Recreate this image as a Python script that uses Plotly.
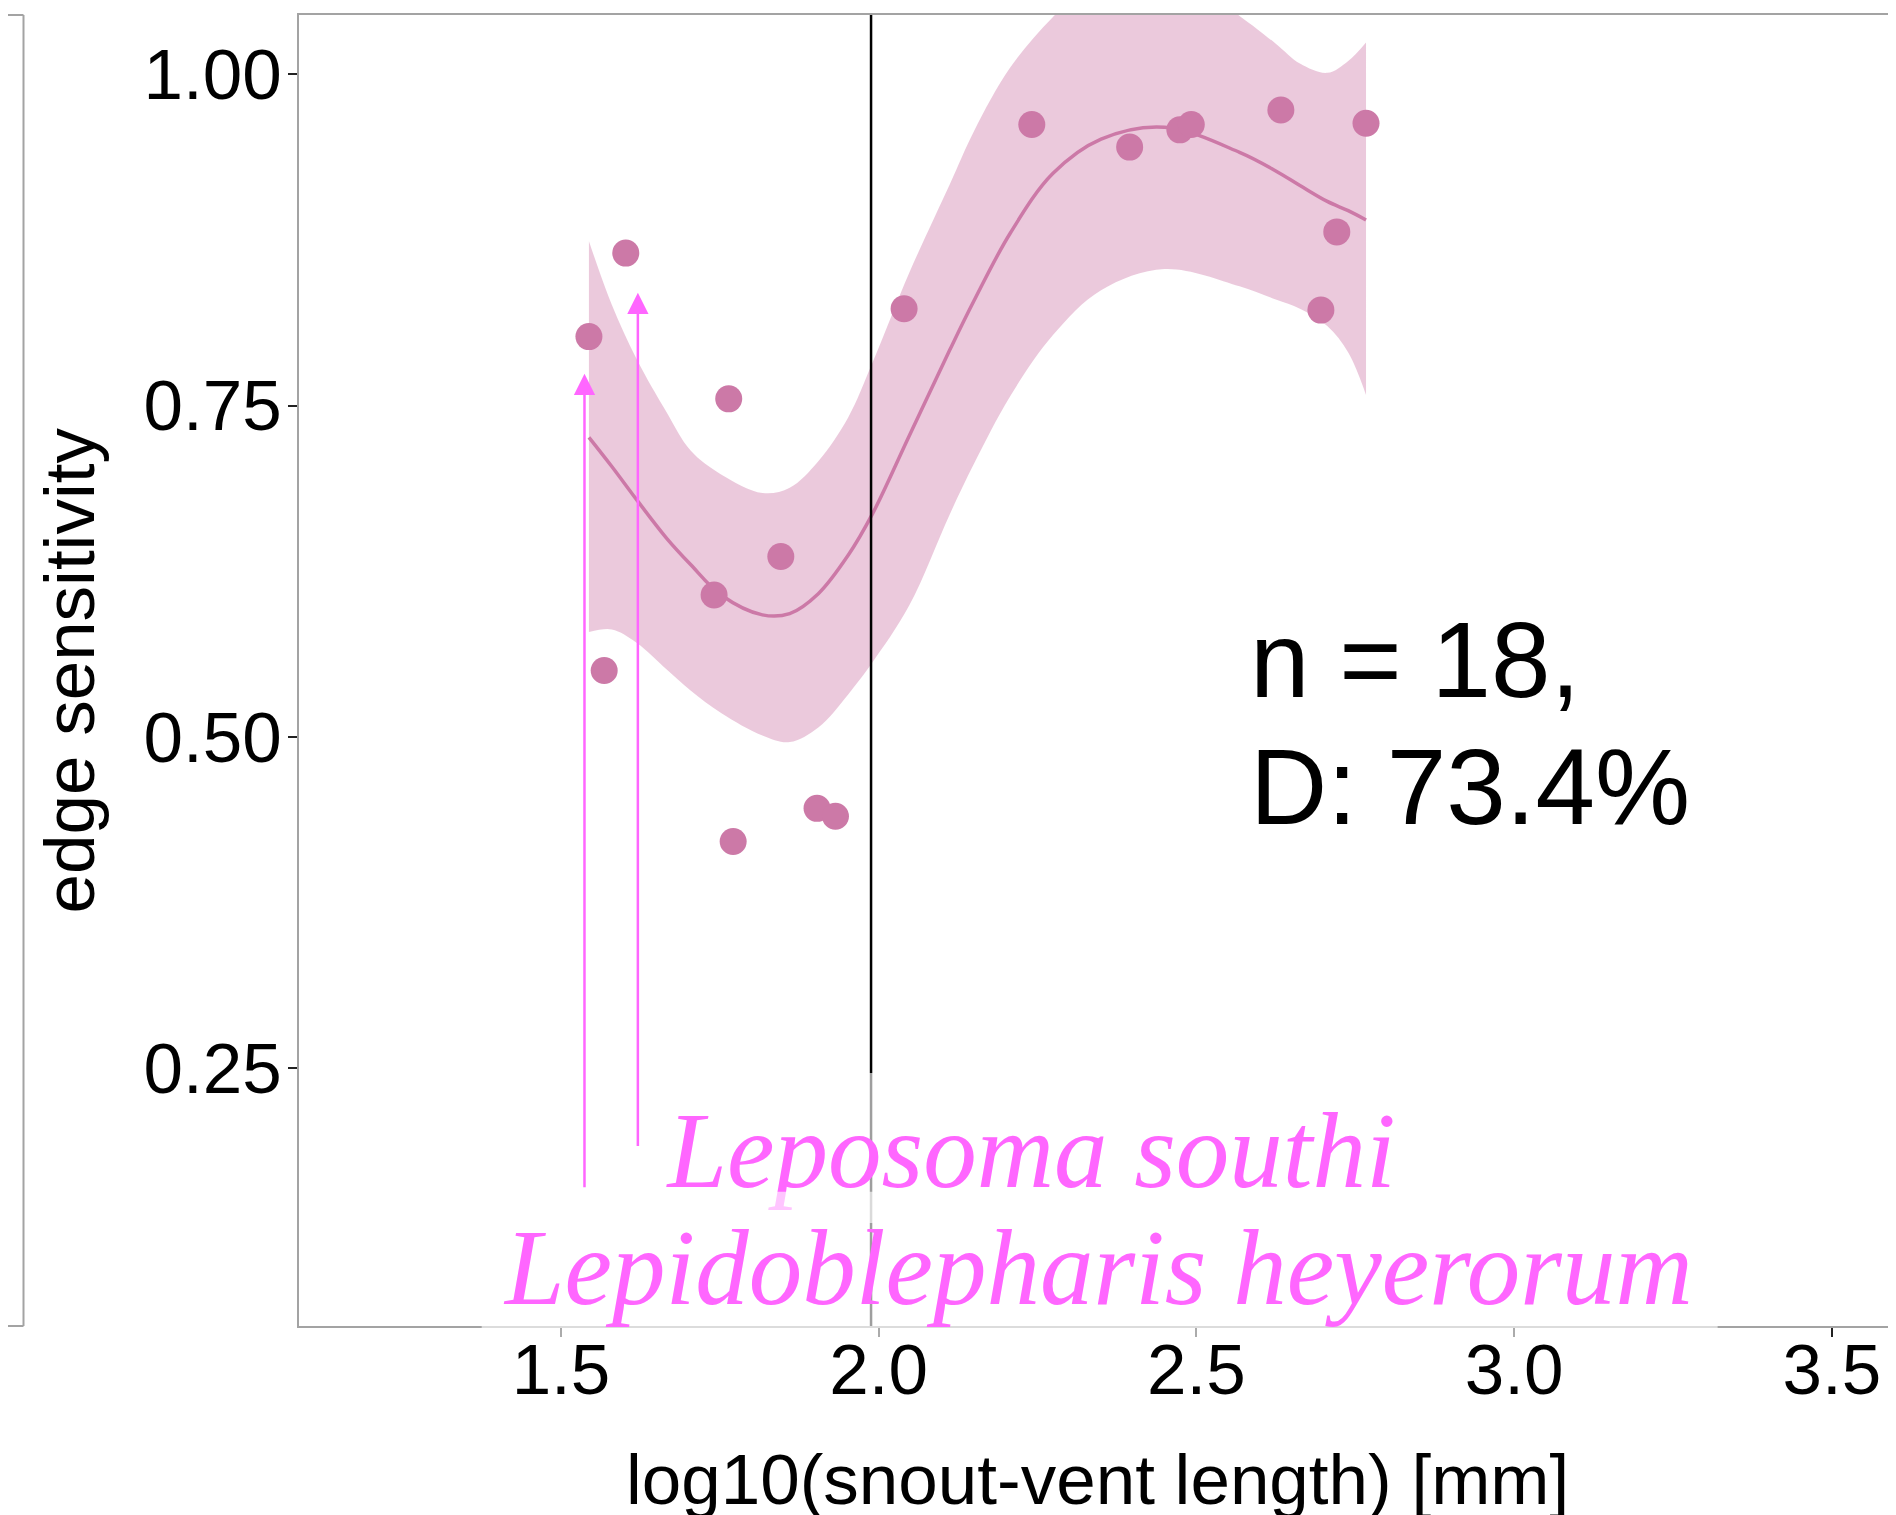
import plotly.graph_objects as go

# ---------------- data ----------------
pt_x = [1.544, 1.602, 1.568, 1.764, 1.741, 1.846, 2.040, 1.771, 1.903, 1.932,
        2.241, 2.395, 2.474, 2.492, 2.633, 2.767, 2.721, 2.696]
pt_y = [0.802, 0.865, 0.550, 0.755, 0.607, 0.636, 0.823, 0.421, 0.446, 0.440,
        0.962, 0.945, 0.958, 0.962, 0.973, 0.963, 0.881, 0.822]

fit_x = [1.544, 1.580, 1.619, 1.666, 1.704, 1.752, 1.817, 1.860, 1.905, 1.952,
         1.990, 2.048, 2.112, 2.150, 2.207, 2.274, 2.350, 2.450, 2.568, 2.625,
         2.663, 2.706, 2.739, 2.767]
fit_y = [0.726, 0.704, 0.679, 0.650, 0.630, 0.607, 0.592, 0.593, 0.608, 0.637,
         0.668, 0.727, 0.792, 0.829, 0.880, 0.925, 0.951, 0.960, 0.941, 0.927,
         0.916, 0.904, 0.897, 0.890]
fit_hi = [0.874, 0.826, 0.785, 0.745, 0.716, 0.698, 0.684, 0.688, 0.708, 0.741,
          0.782, 0.850, 0.917, 0.957, 1.005, 1.043, 1.075, 1.082, 1.044, 1.023,
          1.008, 1.001, 1.010, 1.024]
fit_lo = [0.579, 0.581, 0.571, 0.551, 0.535, 0.518, 0.501, 0.496, 0.507, 0.532,
          0.556, 0.599, 0.668, 0.706, 0.757, 0.803, 0.837, 0.853, 0.840, 0.830,
          0.823, 0.810, 0.790, 0.758]

vline_x = 1.988

arrow_x = [1.537, 1.621]
arrow_tail = [0.159, 0.190]
arrow_tip = [0.774, 0.835]
species = ["Leposoma southi", "Lepidoblepharis heyerorum"]
species_x = [2.2408, 2.3451]
species_y = [0.1805, 0.0990]

x_ticks = [1.5, 2.0, 2.5, 3.0, 3.5]
x_ticktext = ["1.5", "2.0", "2.5", "3.0", "3.5"]
y_ticks = [0.25, 0.50, 0.75, 1.00]
y_ticktext = ["0.25", "0.50", "0.75", "1.00"]

stat_lines = ["n = 18,", "D: 73.4%"]
stat_x = 2.582
stat_y = [0.5583, 0.4622]

X_RANGE = [1.0877, 3.6011]
Y_RANGE = [0.05539, 1.04467]

# ---------------- style ----------------
PINK = "#CC79A7"
RIBBON = "rgba(204,121,167,0.4)"
MAGENTA = "#FF66FF"
BORDER = "#A3A3A3"
VEIL = "rgba(255,255,255,0.62)"
SANS = "Liberation Sans, Arial, sans-serif"
SERIF = "Liberation Serif, Times New Roman, serif"
SP_SIZE = 107

# label boxes (data units)
boxA = dict(x0=1.632, x1=2.853, y0=0.1331, y1=0.2463)
boxB = dict(x0=1.3752, x1=3.3204, y0=0.0441, y1=0.1567)


def xp(x):
    return (x - X_RANGE[0]) / (X_RANGE[1] - X_RANGE[0])


def yp(y):
    return (y - Y_RANGE[0]) / (Y_RANGE[1] - Y_RANGE[0])


fig = go.Figure()

# confidence ribbon
fig.add_trace(go.Scatter(
    x=fit_x, y=fit_lo, mode="lines", line=dict(width=0, shape="spline"),
    hoverinfo="skip", showlegend=False))
fig.add_trace(go.Scatter(
    x=fit_x, y=fit_hi, mode="lines", line=dict(width=0, shape="spline"),
    fill="tonexty", fillcolor=RIBBON, hoverinfo="skip", showlegend=False))
# fitted curve
fig.add_trace(go.Scatter(
    x=fit_x, y=fit_y, mode="lines", line=dict(color=PINK, width=3.5, shape="spline"),
    showlegend=False))
# points
fig.add_trace(go.Scatter(
    x=pt_x, y=pt_y, mode="markers",
    marker=dict(size=27, color=PINK, line=dict(width=0)), showlegend=False))
# vertical reference line
fig.add_trace(go.Scatter(
    x=[vline_x, vline_x], y=[Y_RANGE[0] - 0.05, Y_RANGE[1] + 0.05], mode="lines",
    line=dict(color="black", width=2.5), hoverinfo="skip", showlegend=False))
# label box A
fig.add_trace(go.Scatter(
    x=[boxA["x0"], boxA["x1"], boxA["x1"], boxA["x0"], boxA["x0"]],
    y=[boxA["y0"], boxA["y0"], boxA["y1"], boxA["y1"], boxA["y0"]],
    mode="lines", fill="toself", fillcolor=VEIL, line=dict(width=0),
    hoverinfo="skip", showlegend=False))
# label text A
fig.add_trace(go.Scatter(
    x=[species_x[0]], y=[species_y[0]], mode="text", text=[species[0]],
    textposition="middle center",
    textfont=dict(family=SERIF, size=SP_SIZE, color=MAGENTA, style="italic"),
    hoverinfo="skip", showlegend=False))

shapes = []
# label box B - covers the axis line too
shapes.append(dict(type="rect", xref="paper", yref="paper",
                   x0=xp(boxB["x0"]), x1=xp(boxB["x1"]),
                   y0=yp(boxB["y0"]), y1=yp(boxB["y1"]),
                   fillcolor=VEIL, line=dict(width=0), layer="above"))
# fragment of neighbouring panel border at the far left
left_px = (23.5 - 299) / 1597
shapes.append(dict(type="line", xref="paper", yref="paper", x0=left_px, x1=left_px,
                   y0=0, y1=1, line=dict(color=BORDER, width=2)))
shapes.append(dict(type="line", xref="paper", yref="paper", x0=-0.2, x1=left_px,
                   y0=1, y1=1, line=dict(color=BORDER, width=2)))
shapes.append(dict(type="line", xref="paper", yref="paper", x0=-0.2, x1=left_px,
                   y0=0, y1=0, line=dict(color=BORDER, width=2)))

annotations = []
for ax_, t0, t1 in zip(arrow_x, arrow_tail, arrow_tip):
    annotations.append(dict(x=ax_, y=t1, ax=ax_, ay=t0, xref="x", yref="y",
                            axref="x", ayref="y", text="", showarrow=True,
                            arrowhead=2, arrowsize=1.7, arrowwidth=2.5,
                            arrowcolor=MAGENTA, standoff=0))
annotations.append(dict(x=species_x[1], y=species_y[1], xref="x", yref="y",
                        text=species[1], showarrow=False, xanchor="center",
                        yanchor="middle",
                        font=dict(family=SERIF, size=SP_SIZE, color=MAGENTA,
                                  style="italic")))
for txt, yy in zip(stat_lines, stat_y):
    annotations.append(dict(x=stat_x, y=yy, xref="x", yref="y", text=txt,
                            showarrow=False, xanchor="left", yanchor="middle",
                            font=dict(family=SANS, size=107, color="black")))
annotations.append(dict(x=0.5, y=-0.1174, xref="paper", yref="paper",
                        text="log10(snout-vent length) [mm]", showarrow=False,
                        xanchor="center", yanchor="middle",
                        font=dict(family=SANS, size=71, color="black")))
annotations.append(dict(x=-0.144, y=0.5, xref="paper", yref="paper",
                        text="edge sensitivity", showarrow=False, textangle=-90,
                        xanchor="center", yanchor="middle",
                        font=dict(family=SANS, size=71, color="black")))

# the page body adds an 8px offset, so the figure is 8px smaller
fig.update_layout(
    width=1888, height=1507,
    margin=dict(l=291, r=0, t=7, b=189, pad=0),
    paper_bgcolor="white", plot_bgcolor="white",
    showlegend=False,
    shapes=shapes, annotations=annotations,
    xaxis=dict(range=X_RANGE, tickvals=x_ticks, ticktext=x_ticktext,
               showgrid=False, zeroline=False, showline=True, mirror=True,
               linecolor=BORDER, linewidth=2, ticks="outside", ticklen=9,
               tickwidth=2, tickcolor="#222222", ticklabelstandoff=-28,
               tickfont=dict(family=SANS, size=71, color="black")),
    yaxis=dict(range=Y_RANGE, tickvals=y_ticks, ticktext=y_ticktext,
               showgrid=False, zeroline=False, showline=True, mirror=False,
               linecolor=BORDER, linewidth=2, ticks="outside", ticklen=9,
               tickwidth=2, tickcolor="#222222", ticklabelstandoff=-8,
               tickfont=dict(family=SANS, size=71, color="black")),
)

fig.write_html("out.html")
